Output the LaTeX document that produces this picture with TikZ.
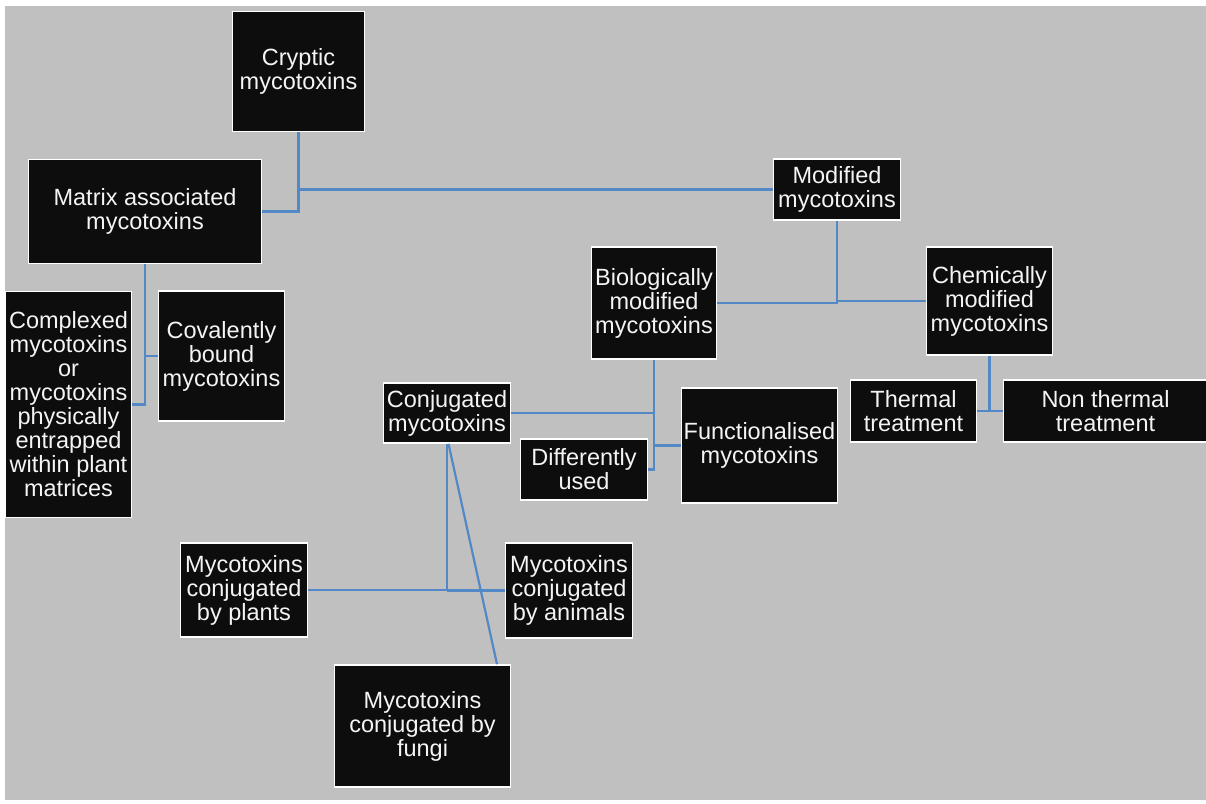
\documentclass[tikz,border=0pt]{standalone}
\usepackage{fontspec}
\setmainfont{Liberation Sans}
\usetikzlibrary{calc}
\definecolor{bggray}{HTML}{C0C0C0}
\definecolor{boxblack}{HTML}{0D0D0D}
\definecolor{linkblue}{HTML}{5288C6}
\definecolor{txtwhite}{HTML}{F4F4F4}
\tikzset{
  mbox/.style={draw=white, line width=1.6pt, fill=boxblack, text=txtwhite,
    inner sep=0pt, align=center, font=\fontsize{23.5}{24}\selectfont},
  link/.style={draw=linkblue, line width=2.2pt}
}
\begin{document}
\begin{tikzpicture}[x=1pt,y=-1pt]
\useasboundingbox (0,0) rectangle (1206,803);
\fill[white] (0,0) rectangle (1206,803);
\fill[bggray] (5,6) rectangle (1206,800);
% nodes
\node[mbox, minimum width=132, minimum height=120] (cryptic) at (298.5,71.5) {Cryptic\\mycotoxins};
\node[mbox, minimum width=233, minimum height=104] (matrix) at (145,211.5) {Matrix associated\\mycotoxins};
\node[mbox, minimum width=126, minimum height=226] (complexed) at (68.5,404.5) {Complexed\\mycotoxins\\or\\mycotoxins\\physically\\entrapped\\within plant\\matrices};
\node[mbox, minimum width=126, minimum height=130] (covalent) at (221.5,356) {Covalently\\bound\\mycotoxins};
\node[mbox, minimum width=127, minimum height=61] (modified) at (837,189.5) {Modified\\mycotoxins};
\node[mbox, minimum width=125, minimum height=112] (bio) at (654,303) {Biologically\\modified\\mycotoxins};
\node[mbox, minimum width=126, minimum height=108] (chem) at (989.5,301) {Chemically\\modified\\mycotoxins};
\node[mbox, minimum width=126, minimum height=62] (thermal) at (913.5,411) {Thermal\\treatment};
\node[mbox, minimum width=204, minimum height=62] (nonthermal) at (1105.5,411) {Non thermal\\treatment};
\node[mbox, minimum width=127, minimum height=60] (conj) at (447,413) {Conjugated\\mycotoxins};
\node[mbox, minimum width=127, minimum height=61] (diff) at (584,469.5) {Differently\\used};
\node[mbox, minimum width=156, minimum height=115] (func) at (759.5,445.5) {Functionalised\\mycotoxins};
\node[mbox, minimum width=127, minimum height=94] (plants) at (244,590) {Mycotoxins\\conjugated\\by plants};
\node[mbox, minimum width=127, minimum height=95] (animals) at (569,590.5) {Mycotoxins\\conjugated\\by animals};
\node[mbox, minimum width=176, minimum height=122] (fungi) at (422.5,726) {Mycotoxins\\conjugated by\\fungi};
\coordinate (fungitop) at ($(fungi.north)+(74.5,0)$);
% connectors
\draw[link] (cryptic.south) -- (cryptic.south |- matrix.east) -- (matrix.east);
\draw[link] (cryptic.south |- modified.west) -- (modified.west);
\draw[link] (matrix.south) |- (complexed.east);
\draw[link] (matrix.south |- covalent.west) -- (covalent.west);
\draw[link] (modified.south) |- (bio.east);
\draw[link] (modified.south |- chem.west) -- (chem.west);
\draw[link] (chem.south) -- (chem.south |- thermal.east);
\draw[link] (thermal.east) -- (nonthermal.west);
\draw[link] (bio.south) |- (diff.east);
\draw[link] (bio.south |- conj.east) -- (conj.east);
\draw[link] (bio.south |- func.west) -- (func.west);
\draw[link] (conj.south) |- (plants.east);
\draw[link] (conj.south |- animals.west) -- (animals.west);
\draw[link] ($(conj.south)+(1.5,0)$) -- (fungitop);
\end{tikzpicture}
\end{document}
